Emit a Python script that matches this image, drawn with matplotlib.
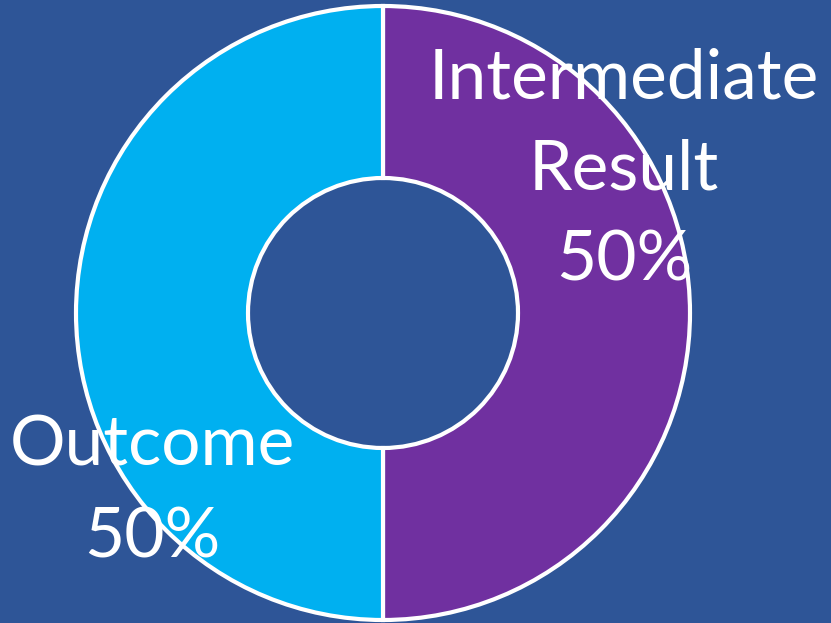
import matplotlib.pyplot as plt

categories = ["Intermediate\nResult", "Outcome"]
shares = [50, 50]
colors = ["#7030A0", "#00B0F0"]
bg = "#2E5597"

fig = plt.figure(figsize=(8.31, 6.23), dpi=100, facecolor=bg)
ax = fig.add_axes([0, 0, 1, 1])
ax.set_facecolor(bg)

ax.pie(shares, colors=colors, startangle=90, counterclock=False,
       center=(383, 310), radius=307,
       wedgeprops=dict(width=307 - 135, edgecolor="white", linewidth=3))

ax.set_xlim(0, 831)
ax.set_ylim(0, 623)
ax.axis("off")

label_pos = [(624, 453), (152, 131)]
for name, val, (x, y) in zip(categories, shares, label_pos):
    ax.text(x, y, f"{name}\n{val}%", ha="center", va="center",
            multialignment="center", color="white", fontsize=50,
            family="Lato", linespacing=1.55)

fig.savefig("out.png", dpi=100, facecolor=bg)
